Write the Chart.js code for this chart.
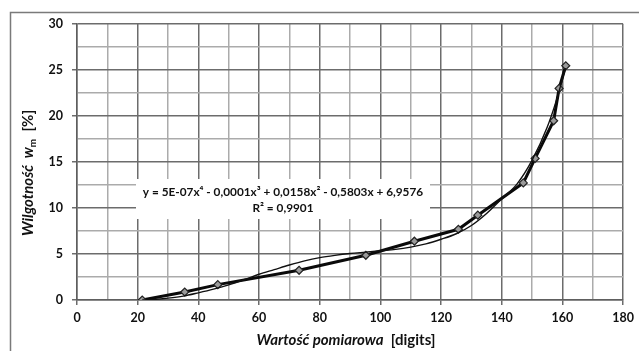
<!DOCTYPE html>
<html>
<head>
<meta charset="utf-8">
<script src="https://cdn.jsdelivr.net/npm/chart.js@4.4.1/dist/chart.umd.min.js"></script>
<style>
html,body{margin:0;padding:0;background:#fff;}
#wrap{width:639px;height:351px;position:relative;}
</style>
</head>
<body>
<div id="wrap"><canvas id="c" width="639" height="351"></canvas></div>
<script>
// Measured points (digits vs moisture %)
const measX = [21.5, 35.5, 46.4, 73.2, 95.2, 111.2, 125.7, 132.1, 147.1, 151.0, 157.1, 158.9, 161.1];
const measY = [0.0, 0.87, 1.67, 3.23, 4.86, 6.39, 7.69, 9.22, 12.73, 15.39, 19.48, 23.0, 25.46];
// Polynomial trendline
const trendX = [21.5, 25, 30, 35, 40, 45, 50, 55, 60, 65, 70, 75, 80, 85, 90, 95, 100, 105, 110, 115, 120, 125, 130, 135, 140, 145, 150, 155, 158, 161];
const trendY = [0.0, 0.05, 0.2, 0.42, 0.78, 1.18, 1.65, 2.2, 2.8, 3.3, 3.8, 4.25, 4.6, 4.85, 5.05, 5.2, 5.35, 5.5, 5.75, 6.1, 6.6, 7.2, 8.1, 9.4, 11.0, 12.6, 15.2, 18.8, 21.7, 25.2];
// Axis ticks
const xMajor = [0, 20, 40, 60, 80, 100, 120, 140, 160, 180];
const yMajor = [0, 5, 10, 15, 20, 25, 30];
const eqLine1 = "y = 5E-07x\u2074 - 0,0001x\u00B3 + 0,0158x\u00B2 - 0,5803x + 6,9576";
const eqLine2 = "R\u00B2 = 0,9901";

const FONT = "Lato, 'Open Sans', 'DejaVu Sans', sans-serif";
const MAJ = '#6c6c6c', MIN = '#ababab';

function drawSegments(ctx, segs, x, y) {
  let cx = x;
  for (const s of segs) {
    ctx.font = s.f;
    ctx.fillText(s.t, cx, y + (s.dy || 0));
    cx += ctx.measureText(s.t).width;
  }
  return cx - x;
}
function measureSegments(ctx, segs) {
  let w = 0;
  for (const s of segs) { ctx.font = s.f; w += ctx.measureText(s.t).width; }
  return w;
}

const decor = {
  id: 'decor',
  beforeDraw(chart) {
    const ctx = chart.ctx;
    ctx.save();
    ctx.fillStyle = '#fff';
    ctx.fillRect(0, 0, chart.width, chart.height);
    ctx.strokeStyle = '#7a7a7a';
    ctx.lineWidth = 1.5;
    ctx.beginPath();
    ctx.moveTo(10.5, 351);
    ctx.lineTo(10.5, 12.5);
    ctx.lineTo(639, 12.5);
    ctx.stroke();
    ctx.restore();
  },
  beforeDatasetsDraw(chart) {
    const ctx = chart.ctx;
    ctx.save();
    ctx.fillStyle = '#fff';
    ctx.fillRect(136, 179, 294, 40);
    ctx.fillStyle = '#111';
    ctx.textBaseline = 'middle';
    ctx.textAlign = 'center';
    ctx.font = "bold 11.8px " + FONT;
    ctx.fillText(eqLine1, 283, 192);
    ctx.fillText(eqLine2, 283, 208);
    ctx.restore();
  },
  afterDraw(chart) {
    const ctx = chart.ctx;
    ctx.save();
    ctx.fillStyle = '#111';
    ctx.textBaseline = 'alphabetic';
    ctx.textAlign = 'left';
    const bi = "italic bold 15px " + FONT, b = "bold 15px " + FONT;
    const xs = [{t: 'Warto\u015B\u0107 pomiarowa', f: bi}, {t: '  [digits]', f: b}];
    const wx = measureSegments(ctx, xs);
    drawSegments(ctx, xs, 346 - wx / 2, 345);
    ctx.translate(33, 173);
    ctx.rotate(-Math.PI / 2);
    const ys = [
      {t: 'Wilgotno\u015B\u0107  ', f: bi},
      {t: 'w', f: bi},
      {t: 'm', f: "bold 10px " + FONT, dy: 3},
      {t: '  [%]', f: b}
    ];
    const wy = measureSegments(ctx, ys);
    drawSegments(ctx, ys, -wy / 2, 0);
    ctx.restore();
  }
};

new Chart(document.getElementById('c'), {
  type: 'scatter',
  data: {
    datasets: [
      {
        label: 'Trend',
        data: trendX.map((x, i) => ({x, y: trendY[i]})),
        showLine: true,
        borderColor: '#111',
        borderWidth: 1.4,
        pointRadius: 0,
        cubicInterpolationMode: 'monotone',
        fill: false
      },
      {
        label: 'Pomiar',
        data: measX.map((x, i) => ({x, y: measY[i]})),
        showLine: true,
        borderColor: '#0a0a0a',
        borderWidth: 3,
        tension: 0,
        pointStyle: 'rectRot',
        pointRadius: 4,
        pointBackgroundColor: '#9a9a9a',
        pointBorderColor: '#222',
        pointBorderWidth: 1.2,
        fill: false
      }
    ]
  },
  options: {
    responsive: false,
    animation: false,
    events: [],
    layout: {padding: {left: 10, right: 11, top: 24, bottom: 11}},
    plugins: {legend: {display: false}, tooltip: {enabled: false}, title: {display: false}},
    scales: {
      x: {
        type: 'linear', min: 0, max: 180,
        afterFit(s) { s.height = 40; },
        afterBuildTicks(s) {
          const t = [];
          for (let v = 0; v <= 180; v += 10) t.push({value: v});
          s.ticks = t;
        },
        ticks: {
          autoSkip: false, maxRotation: 0, padding: 5, color: '#111',
          font: {family: FONT, weight: 'bold', size: 12.5},
          callback: (v) => xMajor.includes(v) ? String(v) : ''
        },
        grid: {
          drawTicks: true, tickLength: 5,
          color: (c) => (c.tick && c.tick.value % 20 === 0) ? MAJ : MIN,
          tickColor: (c) => (c.tick && c.tick.value % 20 === 0) ? MAJ : 'rgba(0,0,0,0)',
          lineWidth: 1.5
        },
        border: {display: true, color: '#5e5e5e', width: 1.5}
      },
      y: {
        type: 'linear', min: 0, max: 30,
        afterFit(s) { s.width = 67; },
        afterBuildTicks(s) {
          const t = [];
          for (let v = 0; v <= 30; v += 2.5) t.push({value: v});
          s.ticks = t;
        },
        ticks: {
          autoSkip: false, padding: 9, color: '#111',
          font: {family: FONT, weight: 'bold', size: 12.5},
          callback: (v) => yMajor.includes(v) ? String(v) : ''
        },
        grid: {
          drawTicks: true, tickLength: 5,
          color: (c) => (c.tick && c.tick.value % 5 === 0) ? MAJ : MIN,
          tickColor: (c) => (c.tick && c.tick.value % 5 === 0) ? MAJ : 'rgba(0,0,0,0)',
          lineWidth: 1.5
        },
        border: {display: true, color: '#5e5e5e', width: 1.5}
      }
    }
  },
  plugins: [decor]
});
</script>
</body>
</html>
